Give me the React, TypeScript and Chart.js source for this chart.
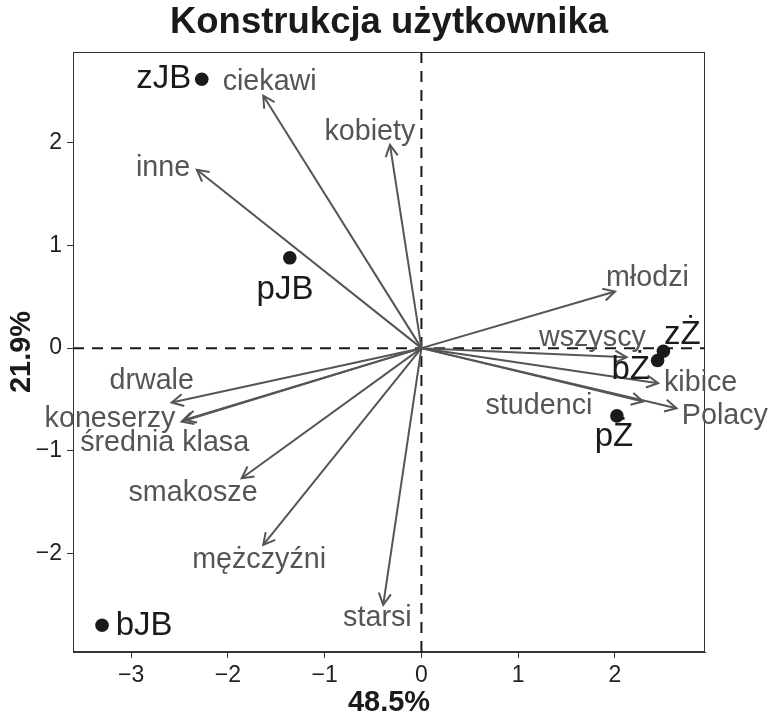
import React, { useEffect, useRef } from 'react';
import { Chart, registerables } from 'chart.js';

Chart.register(...registerables);

const FONT = '"Liberation Sans", Arial, Helvetica, sans-serif';

const chartTitle = 'Konstrukcja użytkownika';
const xAxisTitle = '48.5%';
const yAxisTitle = '21.9%';
const xTicks = [-3, -2, -1, 0, 1, 2];
const yTicks = [-2, -1, 0, 1, 2];
const xLimits = [-3.6, 2.93];
const yLimits = [-2.96, 2.885];

// Individuals (points)
const pointNames = ['zJB', 'pJB', 'bJB', 'zŻ', 'bŻ', 'pŻ'];
const pointX = [-2.27, -1.36, -3.3, 2.5, 2.44, 2.02];
const pointY = [2.62, 0.88, -2.7, -0.03, -0.12, -0.66];
// repelled label anchors (data units)
const pointLabelX = [-2.662, -1.41, -2.865, 2.696, 2.162, 1.99];
const pointLabelY = [2.625, 0.568, -2.707, 0.13, -0.212, -0.86];

// Variables (arrows)
const arrowNames = [
  'ciekawi', 'kobiety', 'inne', 'młodzi', 'wszyscy', 'kibice', 'studenci',
  'Polacy', 'drwale', 'koneserzy', 'średnia klasa', 'smakosze', 'mężczyźni', 'starsi',
];
const arrowX = [-1.634, -0.325, -2.32, 2.0, 2.12, 2.446, 2.29, 2.636, -2.58, -2.477, -2.45, -1.857, -1.634, -0.395];
const arrowY = [2.459, 1.98, 1.738, 0.552, -0.088, -0.341, -0.52, -0.585, -0.53, -0.715, -0.7, -1.267, -1.917, -2.5];
const arrowLabelX = [-1.568, -0.532, -2.67, 2.335, 1.767, 2.885, 1.214, 3.135, -2.787, -3.218, -2.653, -2.36, -1.677, -0.455];
const arrowLabelY = [2.595, 2.108, 1.756, 0.685, 0.1, -0.341, -0.569, -0.657, -0.316, -0.692, -0.926, -1.413, -2.063, -2.632];

const ARROW_COLOR = '#555555';
const POINT_COLOR = '#1a1a1a';

const fmt = (v: number) => (v < 0 ? '\u2212' + Math.abs(v) : String(v));

const biplotPlugin = {
  id: 'biplot',
  beforeDatasetsDraw(chart: any) {
    const { ctx, chartArea, scales } = chart;
    const x0 = scales.x.getPixelForValue(0);
    const y0 = scales.y.getPixelForValue(0);
    ctx.save();
    // frame
    ctx.strokeStyle = '#333333';
    ctx.lineWidth = 1;
    ctx.strokeRect(chartArea.left + 0.5, chartArea.top + 0.5, chartArea.right - chartArea.left - 1, chartArea.bottom - chartArea.top - 1);
    // dashed zero lines
    ctx.strokeStyle = '#1a1a1a';
    ctx.lineWidth = 2;
    ctx.setLineDash([11, 8]);
    ctx.beginPath();
    ctx.moveTo(x0, chartArea.top);
    ctx.lineTo(x0, chartArea.bottom);
    ctx.moveTo(chartArea.left, y0);
    ctx.lineTo(chartArea.right, y0);
    ctx.stroke();
    ctx.restore();
  },
  afterDatasetDraw(chart: any, args: any) {
    if (args.index !== 1) return;
    const { ctx, scales } = chart;
    const x0 = scales.x.getPixelForValue(0);
    const y0 = scales.y.getPixelForValue(0);
    ctx.save();
    ctx.strokeStyle = ARROW_COLOR;
    ctx.lineWidth = 2;
    ctx.lineCap = 'butt';
    ctx.lineJoin = 'miter';
    const len = 13;
    const ang = (28 * Math.PI) / 180;
    arrowNames.forEach((_, i) => {
      const tx = scales.x.getPixelForValue(arrowX[i]);
      const ty = scales.y.getPixelForValue(arrowY[i]);
      const a = Math.atan2(ty - y0, tx - x0);
      ctx.beginPath();
      ctx.moveTo(tx - len * Math.cos(a - ang), ty - len * Math.sin(a - ang));
      ctx.lineTo(tx, ty);
      ctx.lineTo(tx - len * Math.cos(a + ang), ty - len * Math.sin(a + ang));
      ctx.stroke();
    });
    ctx.fillStyle = ARROW_COLOR;
    ctx.font = `28.7px ${FONT}`;
    ctx.textAlign = 'center';
    ctx.textBaseline = 'middle';
    arrowNames.forEach((name, i) => {
      ctx.fillText(name, scales.x.getPixelForValue(arrowLabelX[i]), scales.y.getPixelForValue(arrowLabelY[i]));
    });
    ctx.restore();
  },
  afterDatasetsDraw(chart: any) {
    const { ctx, scales } = chart;
    ctx.save();
    ctx.fillStyle = POINT_COLOR;
    ctx.font = `33px ${FONT}`;
    ctx.textAlign = 'center';
    ctx.textBaseline = 'middle';
    pointNames.forEach((name, i) => {
      ctx.fillText(name, scales.x.getPixelForValue(pointLabelX[i]), scales.y.getPixelForValue(pointLabelY[i]));
    });
    ctx.restore();
  },
  afterDraw(chart: any) {
    const { ctx, chartArea } = chart;
    ctx.save();
    ctx.fillStyle = '#1a1a1a';
    ctx.font = `bold 36.5px ${FONT}`;
    ctx.textAlign = 'center';
    ctx.textBaseline = 'middle';
    ctx.fillText(chartTitle, (chartArea.left + chartArea.right) / 2, 23);
    ctx.restore();
  },
};

export default function App() {
  const ref = useRef<HTMLCanvasElement | null>(null);

  useEffect(() => {
    if (!ref.current) return;
    const arrowDatasets = arrowNames.map((name, i) => ({
      label: name,
      data: [{ x: 0, y: 0 }, { x: arrowX[i], y: arrowY[i] }],
      showLine: true,
      borderColor: ARROW_COLOR,
      borderWidth: 2,
      pointRadius: 0,
      pointHoverRadius: 0,
      fill: false,
    }));
    const chart = new Chart(ref.current, {
      type: 'scatter',
      data: {
        datasets: [
          {
            label: 'points',
            data: pointNames.map((_, i) => ({ x: pointX[i], y: pointY[i] })),
            pointRadius: 6.8,
            pointBackgroundColor: POINT_COLOR,
            pointBorderColor: POINT_COLOR,
            pointBorderWidth: 0,
            showLine: false,
          },
          ...arrowDatasets,
        ] as any,
      },
      options: {
        responsive: false,
        animation: false,
        events: [],
        layout: { padding: { top: 52, right: 65, bottom: 0, left: 0 } },
        plugins: {
          legend: { display: false },
          tooltip: { enabled: false },
          title: { display: false },
        },
        scales: {
          x: {
            type: 'linear',
            min: xLimits[0],
            max: xLimits[1],
            afterBuildTicks: (s: any) => {
              s.ticks = xTicks.map((v) => ({ value: v }));
            },
            afterFit: (s: any) => {
              s.height = 65;
            },
            ticks: {
              font: { family: FONT, size: 23 },
              color: '#222222',
              padding: 4,
              maxRotation: 0,
              autoSkip: false,
              callback: (v: any) => fmt(Number(v)),
            },
            grid: { drawOnChartArea: false, drawTicks: true, tickLength: 6, color: '#333333', lineWidth: 1 },
            border: { display: true, color: '#333333', width: 1 },
            title: {
              display: true,
              text: xAxisTitle,
              color: '#1a1a1a',
              font: { family: FONT, size: 29, weight: 'bold', lineHeight: 1 },
              padding: { top: 0, bottom: 0 },
            },
          },
          y: {
            type: 'linear',
            min: yLimits[0],
            max: yLimits[1],
            afterBuildTicks: (s: any) => {
              s.ticks = yTicks.map((v) => ({ value: v }));
            },
            afterFit: (s: any) => {
              s.width = 73;
            },
            ticks: {
              font: { family: FONT, size: 23 },
              color: '#222222',
              padding: 5,
              autoSkip: false,
              callback: (v: any) => fmt(Number(v)),
            },
            grid: { drawOnChartArea: false, drawTicks: true, tickLength: 6, color: '#333333', lineWidth: 1 },
            border: { display: true, color: '#333333', width: 1 },
            title: {
              display: true,
              text: yAxisTitle,
              color: '#1a1a1a',
              font: { family: FONT, size: 29, weight: 'bold', lineHeight: 1 },
              padding: { top: 7, bottom: 0 },
            },
          },
        },
      } as any,
      plugins: [biplotPlugin],
    });
    return () => chart.destroy();
  }, []);

  return (
    <div style={{ position: 'fixed', left: 0, top: 0, width: 770, height: 717, background: '#ffffff' }}>
      <canvas ref={ref} width={770} height={717} style={{ display: 'block' }} />
    </div>
  );
}
